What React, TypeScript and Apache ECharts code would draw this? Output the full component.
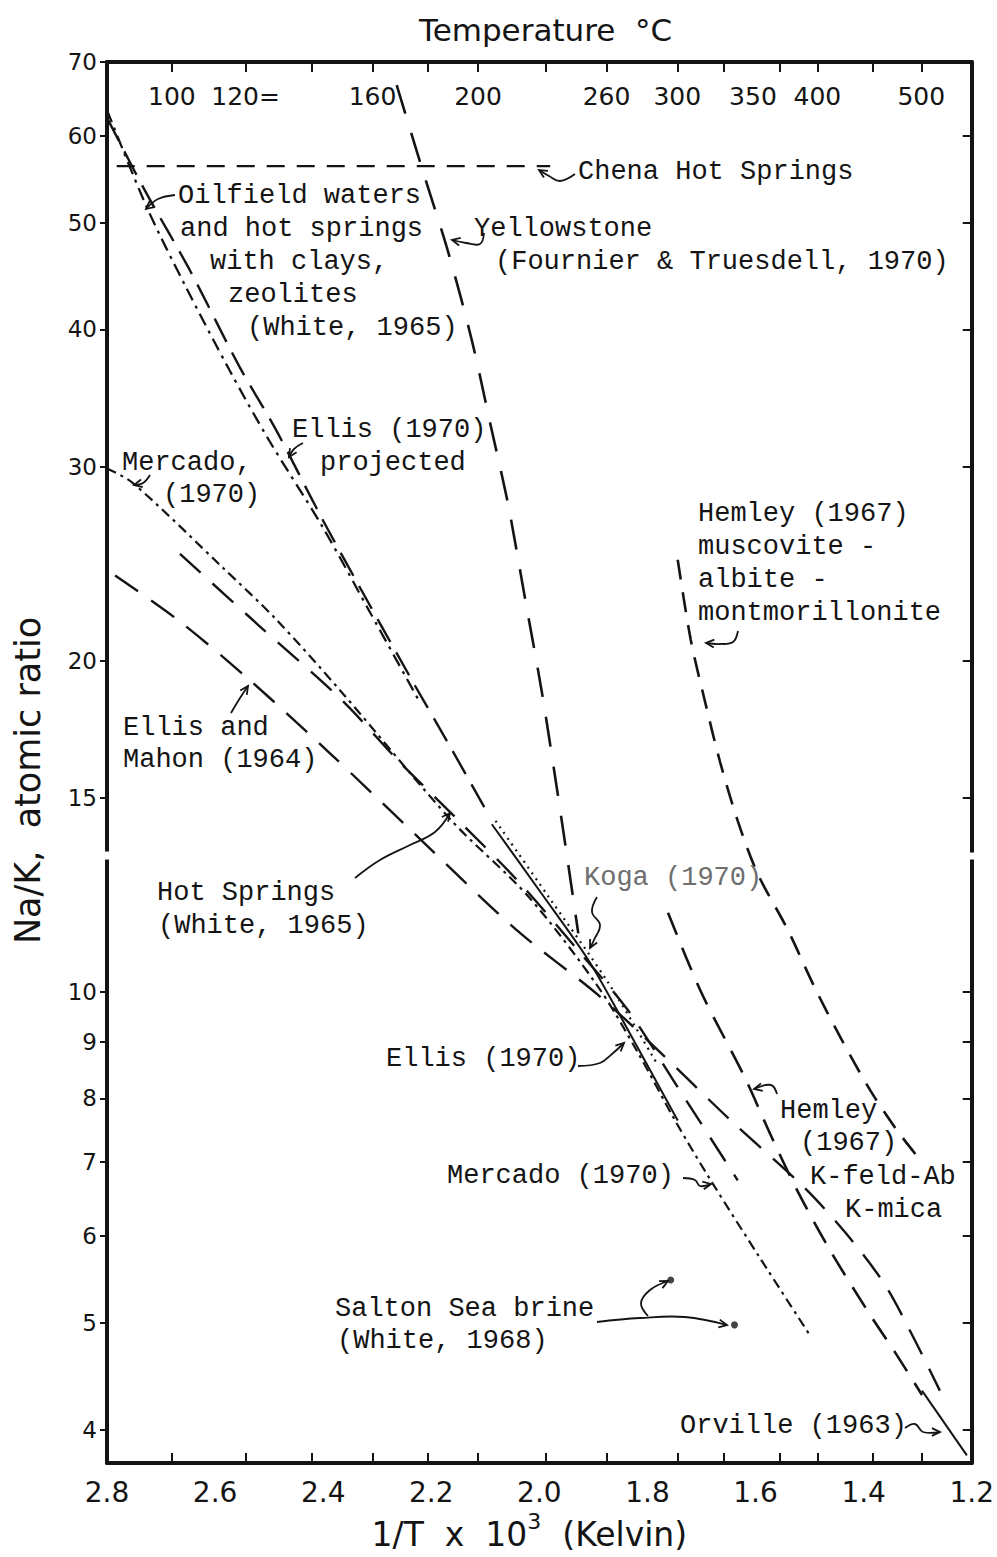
import React, { useEffect, useRef } from "react";
import * as echarts from "echarts";

// ---------- axis tick data ----------
const xMin = 1.2;
const xMax = 2.8;
const xStep = 0.2;
const yMin = 3.73;
const yMax = 70;
const yTickValues = [4, 5, 6, 7, 8, 9, 10, 15, 20, 30, 40, 50, 60, 70];
const tempTickValues = [100, 120, 140, 160, 180, 200, 230, 260, 300, 330, 370, 400, 450, 500];
const tempLabelValues = [100, 120, 160, 200, 260, 300, 350, 400, 500];
const tempLabelTexts = ["100", "120=", "160", "200", "260", "300", "350", "400", "500"];
const axisBreakValue = 13.3;

// ---------- series data (x = 1/T x 10^3, y = Na/K) ----------
const chenaX = [2.782, 1.98];
const chenaY = [56.3, 56.3];

const yellowstoneX = [2.264, 2.218, 2.168, 2.125, 2.09, 2.057, 2.026, 1.996, 1.971, 1.95, 1.928];
const yellowstoneY = [66.7, 56.2, 46.9, 39.1, 32.7, 27.6, 22.7, 18.8, 15.7, 13.4, 11.3];

const oilfieldX = [2.8, 2.726, 2.656, 2.573, 2.5, 2.402, 2.315, 2.223];
const oilfieldY = [63.3, 51.6, 43.9, 36.7, 31.7, 26.5, 22.2, 18.4];

const ellisProjX = [2.8, 2.73, 2.647, 2.555, 2.487, 2.407, 2.334, 2.236, 2.168, 2.098];
const ellisProjY = [62.3, 53.5, 45.3, 37.0, 32.4, 27.2, 23.4, 19.2, 16.8, 14.6];

const ellisX = [2.088, 2.002, 1.91, 1.849, 1.744];
const ellisY = [14.2, 12.4, 10.7, 9.48, 7.64];

const kogaX = [2.081, 1.983, 1.873, 1.781];
const kogaY = [14.3, 12.2, 10.2, 8.58];

const mercadoX = [2.8, 2.752, 2.586, 2.487, 2.365, 2.162, 2.02, 1.891, 1.818, 1.749, 1.683, 1.591, 1.499];
const mercadoY = [29.9, 29.0, 24.3, 21.8, 18.7, 14.3, 12.2, 10.1, 8.81, 7.64, 6.74, 5.72, 4.87];

const hotSpringsX = [2.665, 2.518, 2.365, 2.26, 2.155, 2.039, 1.928, 1.836, 1.744, 1.633];
const hotSpringsY = [25.0, 21.5, 18.4, 16.2, 14.4, 12.6, 10.9, 9.62, 8.19, 6.74];

const ellisMahonX = [2.785, 2.665, 2.536, 2.389, 2.223, 2.044, 1.891, 1.786, 1.646, 1.51, 1.43, 1.36, 1.305, 1.259];
const ellisMahonY = [23.9, 21.7, 19.2, 16.5, 13.8, 11.4, 9.93, 8.9, 7.64, 6.64, 6.01, 5.41, 4.82, 4.34];

const hemleyMamX = [1.744, 1.72, 1.694, 1.666, 1.633, 1.596, 1.541, 1.491, 1.443, 1.388, 1.338, 1.292];
const hemleyMamY = [24.7, 20.9, 18.4, 16.2, 14.3, 12.8, 11.4, 10.1, 9.09, 8.14, 7.48, 7.0];

const hemleyKfX = [1.762, 1.701, 1.62, 1.572, 1.523, 1.462, 1.394, 1.338, 1.292];
const hemleyKfY = [11.8, 10.0, 8.36, 7.41, 6.6, 5.82, 5.14, 4.67, 4.3];

const orvilleX = [1.292, 1.209];
const orvilleY = [4.34, 3.79];

const saltonX = [1.757, 1.639];
const saltonY = [5.47, 4.98];

// ---------- styling ----------
const INK = "#141414";
const MONO = "'Liberation Mono', 'DejaVu Sans Mono', monospace";
const SANS = "'DejaVu Sans', 'Liberation Sans', sans-serif";

const toInvT = (t: number) => 1000 / (t + 273.15);
const lg = (v: number) => Math.log10(v);

function lineSeries(name: string, xs: number[], ys: number[], dash: any, width: number, smooth: number) {
  return {
    name,
    type: "line",
    data: xs.map((x, i) => [x, lg(ys[i])]),
    showSymbol: false,
    smooth,
    silent: true,
    clip: true,
    lineStyle: { color: INK, width, type: dash, cap: "butt" },
    z: 3,
  };
}

type Pt = [number, number];

function arrow(points: Pt[], head = 9): any[] {
  const n = points.length;
  const [x1, y1] = points[n - 2];
  const [x2, y2] = points[n - 1];
  const a = Math.atan2(y2 - y1, x2 - x1);
  const s = 0.45;
  const h1: Pt = [x2 - head * Math.cos(a - s), y2 - head * Math.sin(a - s)];
  const h2: Pt = [x2 - head * Math.cos(a + s), y2 - head * Math.sin(a + s)];
  return [
    { type: "polyline", silent: true, z: 20, shape: { points, smooth: 0.4 }, style: { stroke: INK, lineWidth: 1.8, fill: null } },
    { type: "polyline", silent: true, z: 20, shape: { points: [h1, [x2, y2], h2] }, style: { stroke: INK, lineWidth: 1.8, fill: null } },
  ];
}

function label(text: string, x: number, y: number, color = INK): any {
  return {
    type: "text",
    silent: true,
    z: 20,
    x,
    y,
    style: { text, fontFamily: MONO, fontSize: 27, fill: color, verticalAlign: "middle", align: "left" },
  };
}

const annotationTexts: any[] = [
  label("Chena Hot Springs", 578, 172),
  label("Oilfield waters", 178, 196),
  label("and hot springs", 180, 229),
  label("with clays,", 210, 262),
  label("zeolites", 228, 295),
  label("(White, 1965)", 247, 328),
  label("Yellowstone", 474, 229),
  label("(Fournier & Truesdell, 1970)", 495, 262),
  label("Ellis (1970)", 292, 430),
  label("projected", 320, 463),
  label("Mercado,", 122, 463),
  label("(1970)", 163, 495),
  label("Hemley (1967)", 698, 514),
  label("muscovite -", 698, 547),
  label("albite -", 698, 580),
  label("montmorillonite", 698, 613),
  label("Ellis and", 123, 728),
  label("Mahon (1964)", 123, 760),
  label("Hot Springs", 157, 893),
  label("(White, 1965)", 158, 926),
  label("Koga (1970)", 584, 878, "#6e6e6e"),
  label("Ellis (1970)", 386, 1059),
  label("Mercado (1970)", 447, 1176),
  label("Hemley", 780, 1111),
  label("(1967)", 800, 1143),
  label("K-feld-Ab", 810, 1177),
  label("K-mica", 845, 1210),
  label("Salton Sea brine", 335, 1309),
  label("(White, 1968)", 337, 1341),
  label("Orville (1963)", 680, 1426),
];

const annotationArrows: any[] = [
  ...arrow([[575, 174], [560, 181], [549, 176], [539, 170]]),
  ...arrow([[175, 195], [158, 199], [146, 209]]),
  ...arrow([[484, 233], [480, 244], [466, 243], [452, 240]]),
  ...arrow([[303, 443], [294, 449], [289, 457]]),
  ...arrow([[150, 475], [143, 483], [134, 485]]),
  ...arrow([[738, 631], [733, 642], [720, 644], [706, 643]]),
  ...arrow([[231, 713], [240, 698], [248, 686]]),
  ...arrow([[355, 878], [380, 860], [410, 845], [435, 832], [450, 813]]),
  ...arrow([[597, 897], [592, 912], [600, 925], [594, 940], [590, 948]]),
  ...arrow([[578, 1066], [600, 1063], [612, 1054], [624, 1043]]),
  ...arrow([[683, 1178], [695, 1180], [700, 1186], [711, 1184]]),
  ...arrow([[777, 1094], [771, 1085], [754, 1089]]),
  ...arrow([[597, 1322], [640, 1318], [685, 1317], [727, 1325]]),
  ...arrow([[648, 1316], [641, 1303], [650, 1290], [668, 1281]]),
  ...arrow([[905, 1428], [915, 1424], [923, 1432], [940, 1432]]),
];

export default function App() {
  const ref = useRef<HTMLDivElement>(null);

  useEffect(() => {
    if (!ref.current) return;
    const chart = echarts.init(ref.current, null, { renderer: "svg" });

    const tempTickPos = tempTickValues.map(toInvT);
    const tempLabelPos = tempLabelValues.map(toInvT);
    const tempFormatter = (v: number) => {
      let best = 0;
      let bd = Infinity;
      tempLabelPos.forEach((p, i) => {
        const d = Math.abs(p - v);
        if (d < bd) {
          bd = d;
          best = i;
        }
      });
      return tempLabelTexts[best];
    };

    const axisLine = { show: true, onZero: false, lineStyle: { color: INK, width: 4 } };

    const option: any = {
      animation: false,
      backgroundColor: "#ffffff",
      title: {
        text: "Temperature  °C",
        left: 414,
        top: 9,
        textStyle: { fontFamily: SANS, fontSize: 31, fontWeight: "normal", color: INK },
      },
      grid: { left: 107, right: 22, top: 62, bottom: 94 },
      xAxis: [
        {
          type: "value",
          position: "bottom",
          min: xMin,
          max: xMax,
          interval: xStep,
          inverse: true,
          axisLine,
          axisTick: { show: true, inside: true, length: 10, customValues: tempTickPos, lineStyle: { color: INK, width: 2 } },
          axisLabel: {
            formatter: (v: number) => v.toFixed(1),
            fontFamily: SANS,
            fontSize: 28,
            color: INK,
            margin: 15,
          },
          splitLine: { show: false },
          name: "{a|1/T  x  10}{s|3}{a|  (Kelvin)}",
          nameLocation: "middle",
          nameGap: 45,
          nameTextStyle: {
            padding: [0, 20, 0, 0],
            rich: {
              a: { fontFamily: SANS, fontSize: 33, color: INK, lineHeight: 40, verticalAlign: "bottom" },
              s: { fontFamily: SANS, fontSize: 22, color: INK, lineHeight: 40, verticalAlign: "top" },
            },
          },
        },
        {
          type: "value",
          position: "top",
          min: xMin,
          max: xMax,
          inverse: true,
          axisLine,
          axisTick: { show: true, inside: true, length: 10, customValues: tempTickPos, lineStyle: { color: INK, width: 2 } },
          axisLabel: {
            inside: true,
            customValues: tempLabelPos,
            formatter: tempFormatter,
            fontFamily: SANS,
            fontSize: 25,
            color: INK,
            margin: 22,
          },
          splitLine: { show: false },
        },
      ],
      yAxis: [
        {
          type: "value",
          position: "left",
          min: lg(yMin),
          max: lg(yMax),
          axisLine,
          axisTick: { show: true, inside: false, length: 7, customValues: yTickValues.map(lg), lineStyle: { color: INK, width: 2 } },
          axisLabel: {
            customValues: yTickValues.map(lg),
            formatter: (v: number) => String(Math.round(Math.pow(10, v))),
            fontFamily: SANS,
            fontSize: 23,
            color: INK,
            margin: 10,
          },
          splitLine: { show: false },
          name: "Na/K,  atomic ratio",
          nameLocation: "middle",
          nameGap: 62,
          nameTextStyle: { fontFamily: SANS, fontSize: 35, color: INK, padding: [0, 36, 0, 0] },
        },
        {
          type: "value",
          position: "right",
          min: lg(yMin),
          max: lg(yMax),
          axisLine,
          axisTick: { show: true, inside: true, length: 9, customValues: yTickValues.map(lg), lineStyle: { color: INK, width: 2 } },
          axisLabel: { show: false },
          splitLine: { show: false },
        },
      ],
      series: [
        lineSeries("Chena Hot Springs", chenaX, chenaY, [18, 12], 2.2, 0),
        lineSeries("Yellowstone (Fournier & Truesdell, 1970)", yellowstoneX, yellowstoneY, [30, 20], 2.6, 0.3),
        lineSeries("Oilfield waters (White, 1965)", oilfieldX, oilfieldY, [13, 6, 3, 6], 2.3, 0.3),
        lineSeries("Ellis (1970) projected", ellisProjX, ellisProjY, [26, 12], 2.4, 0.3),
        lineSeries("Ellis (1970)", ellisX, ellisY, "solid", 2, 0.3),
        lineSeries("Koga (1970)", kogaX, kogaY, [2, 5], 2.2, 0.3),
        lineSeries("Mercado (1970)", mercadoX, mercadoY, [10, 5, 3, 5], 2.2, 0.3),
        lineSeries("Hot Springs (White, 1965)", hotSpringsX, hotSpringsY, [28, 16], 2.4, 0.3),
        lineSeries("Ellis and Mahon (1964)", ellisMahonX, ellisMahonY, [28, 16], 2.4, 0.3),
        lineSeries("Hemley (1967) muscovite-albite-montmorillonite", hemleyMamX, hemleyMamY, [20, 13], 2.6, 0.3),
        lineSeries("Hemley (1967) K-feld-Ab K-mica", hemleyKfX, hemleyKfY, [24, 14], 2.6, 0.3),
        lineSeries("Orville (1963)", orvilleX, orvilleY, "solid", 2, 0),
        {
          name: "Salton Sea brine (White, 1968)",
          type: "scatter",
          data: saltonX.map((x, i) => [x, lg(saltonY[i])]),
          symbol: "circle",
          symbolSize: 7,
          itemStyle: { color: INK },
          silent: true,
          z: 4,
        },
      ],
      graphic: { elements: [...annotationTexts, ...annotationArrows] },
    };

    chart.setOption(option);

    // white gaps in the frame marking the axis break
    const yb = chart.convertToPixel({ yAxisIndex: 0 }, lg(axisBreakValue)) as number;
    const xl = chart.convertToPixel({ xAxisIndex: 0 }, xMax) as number;
    const xr = chart.convertToPixel({ xAxisIndex: 0 }, xMin) as number;
    chart.setOption({
      graphic: {
        elements: [
          ...annotationTexts,
          ...annotationArrows,
          { type: "rect", silent: true, z: 50, shape: { x: xl - 5, y: yb - 4, width: 10, height: 8 }, style: { fill: "#ffffff" } },
          { type: "rect", silent: true, z: 50, shape: { x: xr - 5, y: yb - 3, width: 10, height: 7 }, style: { fill: "#ffffff" } },
        ],
      },
    });

    return () => chart.dispose();
  }, []);

  return (
    <div
      ref={ref}
      style={{ position: "absolute", left: 0, top: 0, width: 997, height: 1557, background: "#fff" }}
    />
  );
}
